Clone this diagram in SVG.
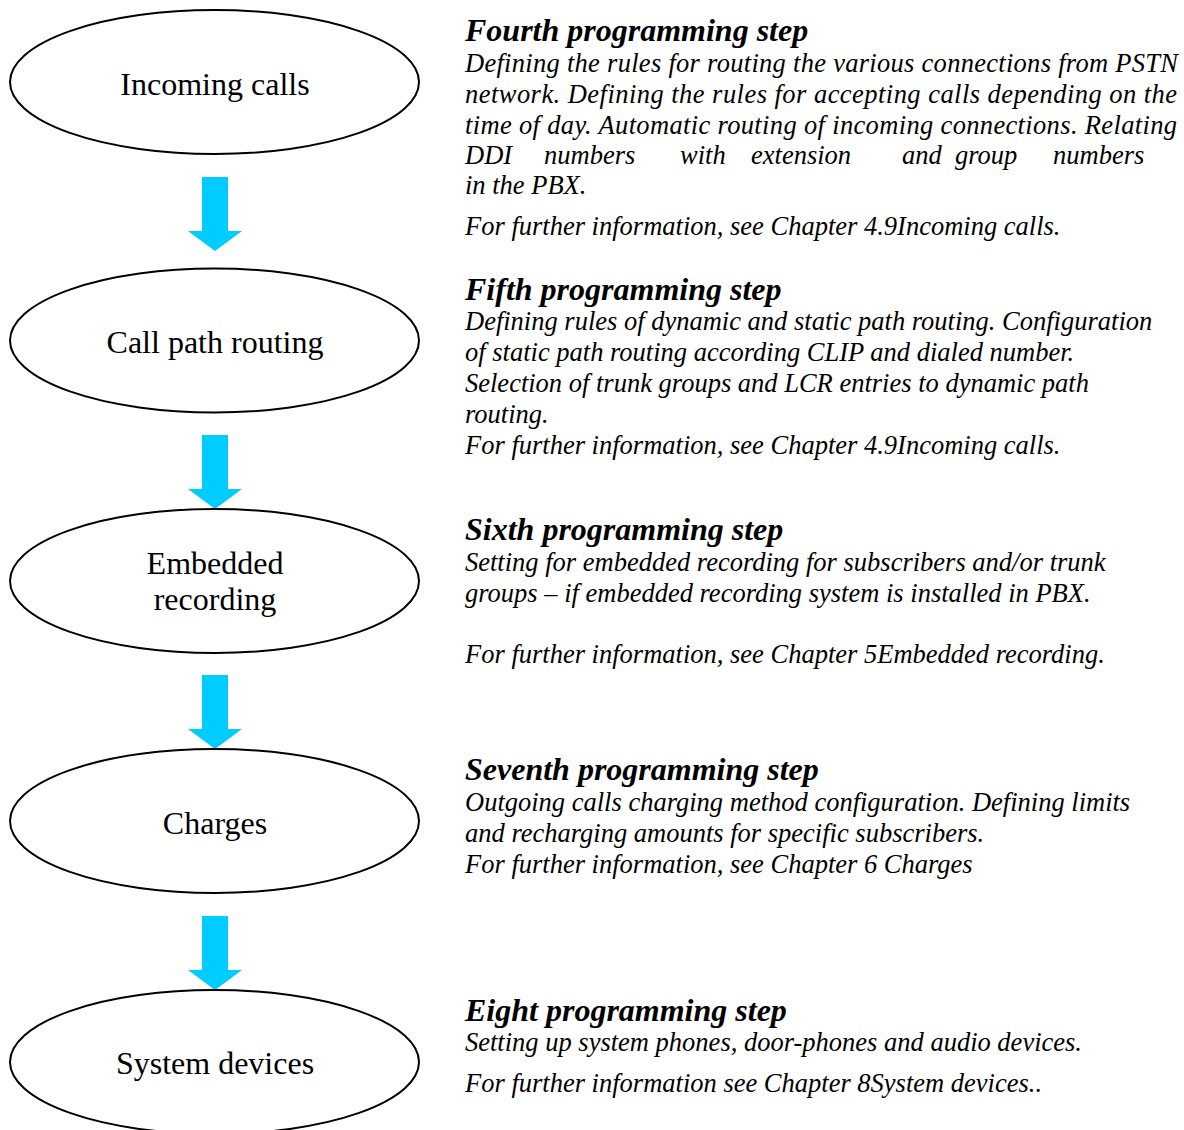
<svg xmlns="http://www.w3.org/2000/svg" width="1184" height="1130" viewBox="0 0 1184 1130">
  <style>
    .stage { fill: #ffffff; stroke: #000000; stroke-width: 2; }
    .label { font-family: "Liberation Serif", "Times New Roman", serif; font-size: 32px; fill: #000000; text-anchor: middle; }
    .title { font-family: "Liberation Serif", "Times New Roman", serif; font-size: 32px; font-weight: bold; font-style: italic; fill: #000000; }
    .body { font-family: "Liberation Serif", "Times New Roman", serif; font-size: 26.5px; font-style: italic; fill: #000000; }
    .flow { fill: #00ccff; stroke: none; }
  </style>
  <defs>
    <!-- block arrow pointing down, tip at (0,0) -->
    <path id="down-arrow" d="M -13 -74 H 13 V -20 H 27 L 0 0 L -27 -20 H -13 Z"/>
  </defs>

  <rect width="1184" height="1130" fill="#ffffff"/>

  <!-- connectors between stages -->
  <g id="connectors" class="flow">
    <use href="#down-arrow" x="215" y="251"/>
    <use href="#down-arrow" x="215" y="509"/>
    <use href="#down-arrow" x="215" y="749"/>
    <use href="#down-arrow" x="215" y="990"/>
  </g>

  <!-- stage nodes -->
  <g id="node-incoming-calls">
    <ellipse class="stage" cx="214.5" cy="82" rx="204.5" ry="72"/>
    <text class="label" x="215" y="95">Incoming calls</text>
  </g>
  <g id="node-call-path-routing">
    <ellipse class="stage" cx="214.5" cy="340.5" rx="204.5" ry="72"/>
    <text class="label" x="215" y="353">Call path routing</text>
  </g>
  <g id="node-embedded-recording">
    <ellipse class="stage" cx="214.5" cy="581" rx="204.5" ry="72"/>
    <text class="label" x="215" y="574">Embedded</text>
    <text class="label" x="215" y="610">recording</text>
  </g>
  <g id="node-charges">
    <ellipse class="stage" cx="214.5" cy="821" rx="204.5" ry="72"/>
    <text class="label" x="215" y="834">Charges</text>
  </g>
  <g id="node-system-devices">
    <ellipse class="stage" cx="214.5" cy="1062" rx="204.5" ry="72"/>
    <text class="label" x="215" y="1074">System devices</text>
  </g>

  <!-- step descriptions -->
  <g id="step-4">
    <text class="title" x="465" y="41">Fourth programming step</text>
    <text class="body" x="465" y="72" textLength="713" lengthAdjust="spacing">Defining the rules for routing the various connections from PSTN</text>
    <text class="body" x="465" y="103" textLength="712" lengthAdjust="spacing">network. Defining the rules for accepting calls depending on the</text>
    <text class="body" x="465" y="134" textLength="712" lengthAdjust="spacing">time of day. Automatic routing of incoming connections. Relating</text>
    <text class="body" y="164"><tspan x="465">DDI</tspan><tspan x="544">numbers</tspan><tspan x="680">with</tspan><tspan x="751">extension</tspan><tspan x="902">and</tspan><tspan x="955">group</tspan><tspan x="1053">numbers</tspan></text>
    <text class="body" x="465" y="194">in the PBX.</text>
    <text class="body" x="465" y="235">For further information, see Chapter 4.9Incoming calls.</text>
  </g>
  <g id="step-5">
    <text class="title" x="465" y="300">Fifth programming step</text>
    <text class="body" x="465" y="330">Defining rules of dynamic and static path routing. Configuration</text>
    <text class="body" x="465" y="361">of static path routing according CLIP and dialed number.</text>
    <text class="body" x="465" y="392">Selection of trunk groups and LCR entries to dynamic path</text>
    <text class="body" x="465" y="423">routing.</text>
    <text class="body" x="465" y="454">For further information, see Chapter 4.9Incoming calls.</text>
  </g>
  <g id="step-6">
    <text class="title" x="465" y="540">Sixth programming step</text>
    <text class="body" x="465" y="571">Setting for embedded recording for subscribers and/or trunk</text>
    <text class="body" x="465" y="602">groups – if embedded recording system is installed in PBX.</text>
    <text class="body" x="465" y="663">For further information, see Chapter 5Embedded recording.</text>
  </g>
  <g id="step-7">
    <text class="title" x="465" y="780">Seventh programming step</text>
    <text class="body" x="465" y="811">Outgoing calls charging method configuration. Defining limits</text>
    <text class="body" x="465" y="842">and recharging amounts for specific subscribers.</text>
    <text class="body" x="465" y="873">For further information, see Chapter 6 Charges</text>
  </g>
  <g id="step-8">
    <text class="title" x="465" y="1021">Eight programming step</text>
    <text class="body" x="465" y="1051">Setting up system phones, door-phones and audio devices.</text>
    <text class="body" x="465" y="1092">For further information see Chapter 8System devices..</text>
  </g>
</svg>
